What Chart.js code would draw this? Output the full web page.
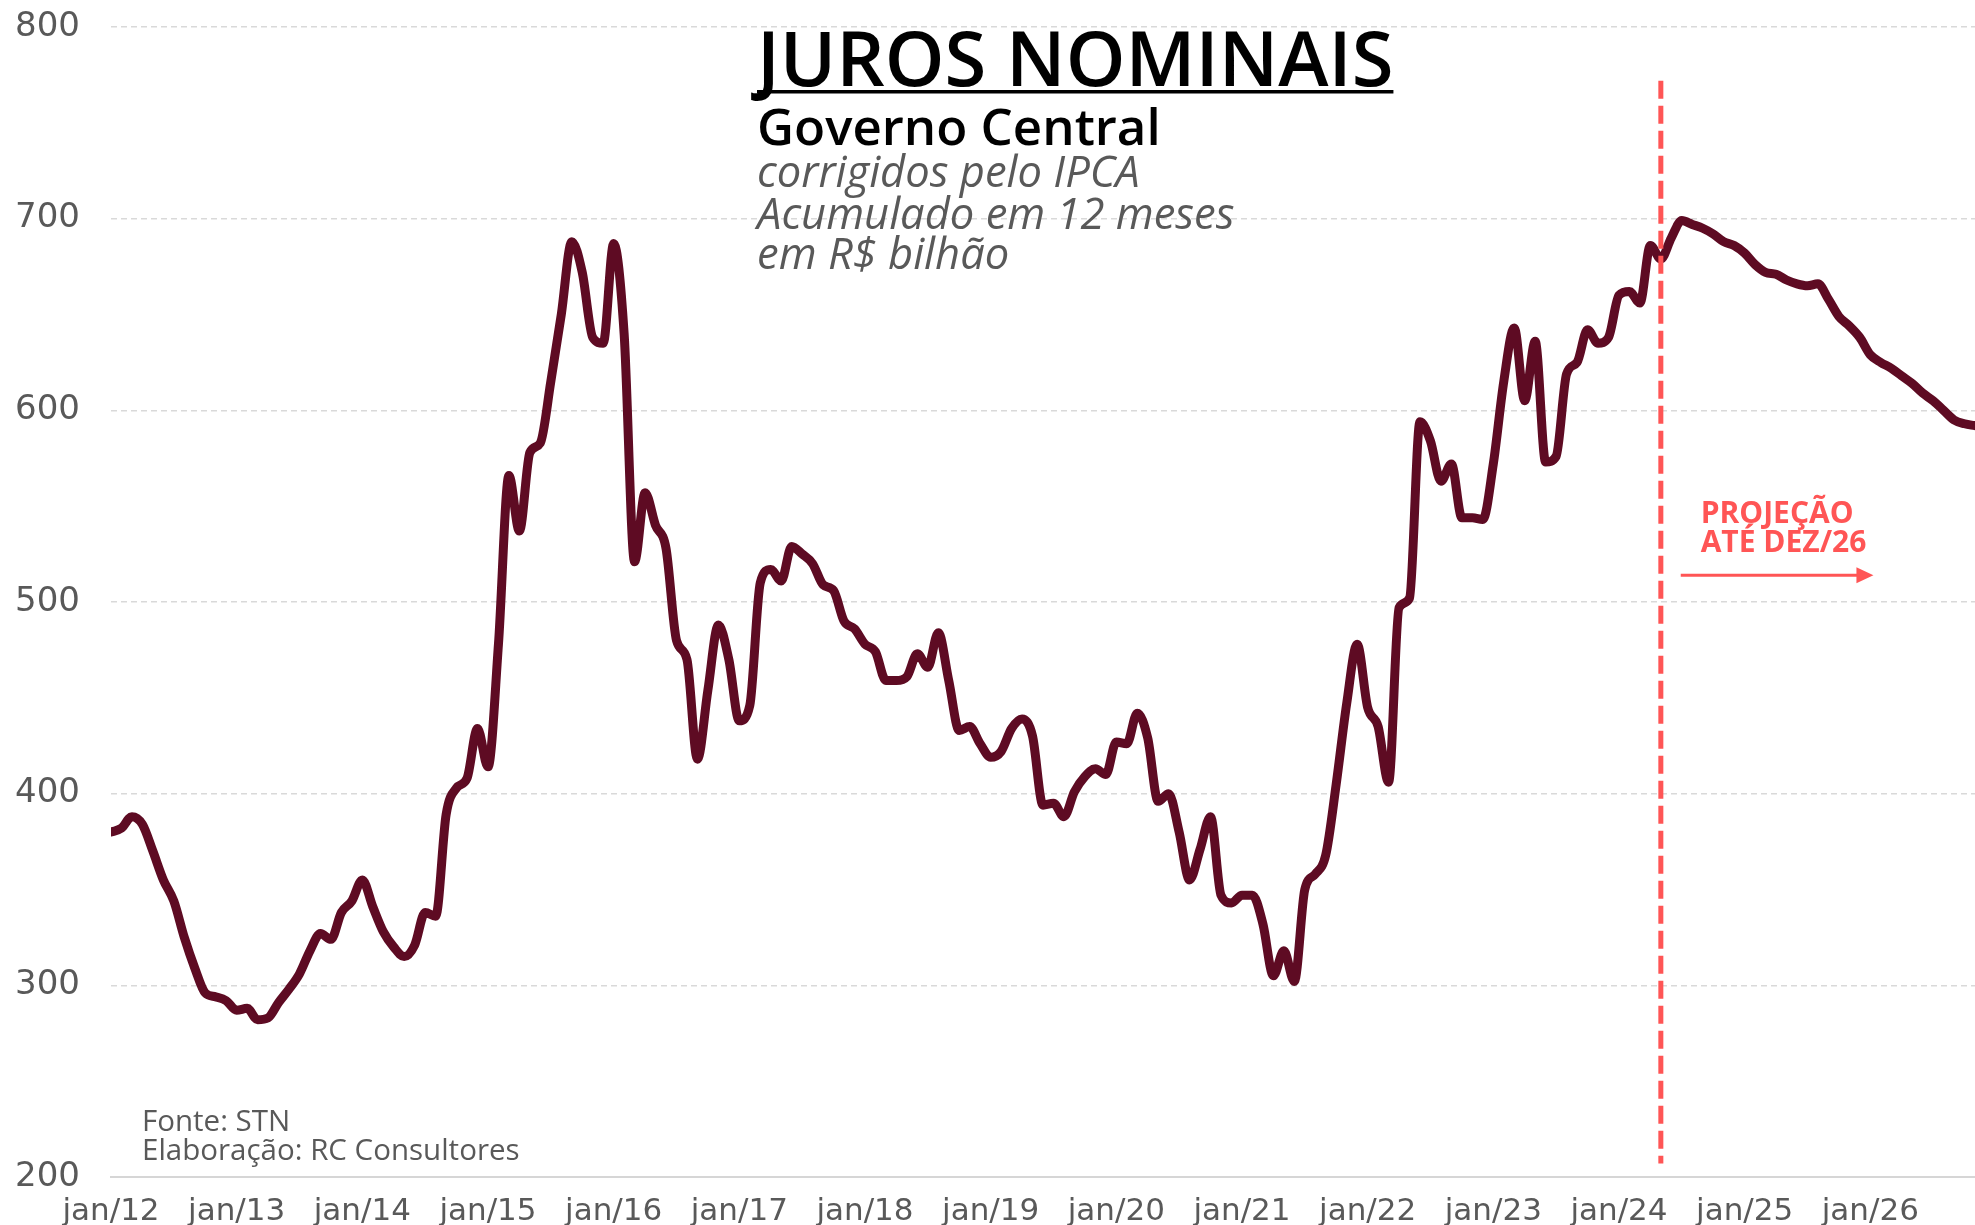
<!DOCTYPE html>
<html>
<head>
<meta charset="utf-8">
<title>Juros nominais - Governo Central</title>
<script src="https://cdn.jsdelivr.net/npm/chart.js@4.4.1/dist/chart.umd.min.js"></script>
<style>
    html, body { margin: 0; padding: 0; background: #fff; overflow: hidden; }
    #wrap { width: 1975px; height: 1225px; }
</style>
</head>
<body>
<div id="wrap"><canvas id="jurosNominais" width="1975" height="1225"></canvas></div>
<script>
"use strict";

// eixo x: um rotulo por janeiro
var tickLabels = ["jan/12", "jan/13", "jan/14", "jan/15", "jan/16", "jan/17", "jan/18", "jan/19", "jan/20", "jan/21", "jan/22", "jan/23", "jan/24", "jan/25", "jan/26"];
var yTicks = [200, 300, 400, 500, 600, 700, 800];

// R$ bilhão, acumulado em 12 meses, jan a dez de cada ano
var juros2012 = [380, 382, 388, 384, 370, 355, 344, 325, 309, 296, 294, 292];
var juros2013 = [287, 288, 282, 283, 291, 298, 306, 318, 327, 324, 338, 344];
var juros2014 = [355, 341, 328, 320, 315, 321, 338, 336, 389, 403, 408, 434];
var juros2015 = [414, 478, 566, 537, 578, 583, 615, 650, 688, 672, 638, 635];
var juros2016 = [687, 640, 521, 557, 540, 528, 480, 470, 418, 454, 488, 470];
var juros2017 = [438, 446, 510, 517, 511, 529, 525, 520, 509, 506, 490, 486];
var juros2018 = [478, 474, 459, 459, 461, 473, 466, 484, 459, 433, 435, 426];
var juros2019 = [419, 422, 434, 439, 430, 394, 395, 388, 401, 409, 413, 410];
var juros2020 = [427, 426, 442, 429, 396, 400, 380, 355, 371, 388, 347, 343];
var juros2021 = [347, 347, 332, 305, 318, 302, 350, 358, 368, 405, 447, 478];
var juros2022 = [445, 435, 406, 497, 502, 594, 584, 563, 572, 544, 544, 543];
var juros2023 = [572, 615, 643, 605, 636, 573, 576, 619, 625, 642, 635, 638];
var juros2024 = [660, 662, 656, 686, 679, 690, 699, 697, 695, 692, 688, 686];
var juros2025 = [682, 676, 672, 671, 668, 666, 665, 666, 658, 649, 644, 638];
var juros2026 = [629, 625, 622, 618, 614, 609, 605, 600, 595, 593, 592, 591];

var serie = [].concat(juros2012, juros2013, juros2014, juros2015, juros2016, juros2017, juros2018,
    juros2019, juros2020, juros2021, juros2022, juros2023, juros2024, juros2025, juros2026);

var projectionStart = 148;   // mai/24, inicio da projecao
var lineColor = "#5e0b23";
var projColor = "#ff5555";
var textGray = "#595959";

var overlay = {
    id: "overlay",
    afterDatasetsDraw: function(chart) {
        var c = chart.ctx, xs = chart.scales.x, ys = chart.scales.y;
        var px = xs.getPixelForValue(projectionStart);
        c.save();

        // linha vertical tracejada da projecao
        c.strokeStyle = projColor;
        c.lineWidth = 5;
        c.setLineDash([18, 7]);
        c.beginPath();
        c.moveTo(px, ys.getPixelForValue(772));
        c.lineTo(px, ys.getPixelForValue(207));
        c.stroke();
        c.setLineDash([]);

        // seta
        var ay = ys.getPixelForValue(514), ax0 = xs.getPixelForValue(149.9), ax1 = xs.getPixelForValue(168.3);
        c.lineWidth = 3;
        c.beginPath();
        c.moveTo(ax0, ay);
        c.lineTo(ax1 - 12, ay);
        c.stroke();
        c.fillStyle = projColor;
        c.beginPath();
        c.moveTo(ax1, ay);
        c.lineTo(ax1 - 17, ay - 8);
        c.lineTo(ax1 - 17, ay + 8);
        c.closePath();
        c.fill();

        c.font = "bold 30px 'Open Sans'";
        c.textBaseline = "alphabetic";
        c.fillText("PROJEÇÃO", xs.getPixelForValue(151.8), ys.getPixelForValue(541));
        c.fillText("ATÉ DEZ/26", xs.getPixelForValue(151.8), ys.getPixelForValue(526));

        // titulo
        c.fillStyle = "#000";
        c.font = "600 76px 'Open Sans'";
        c.fillText("JUROS NOMINAIS", 757, 86);
        var w = c.measureText("JUROS NOMINAIS").width;
        c.fillRect(757, 90, w, 3.5);
        c.font = "600 51px 'Open Sans'";
        c.fillText("Governo Central", 757, 145);

        c.fillStyle = textGray;
        c.font = "italic 43.5px 'Open Sans'";
        c.fillText("corrigidos pelo IPCA", 757, 187);
        c.fillText("Acumulado em 12 meses", 757, 229);
        c.fillText("em R$ bilhão", 757, 269);

        // fonte
        c.font = "29.5px 'Open Sans'";
        c.fillText("Fonte: STN", 142, 1131);
        c.fillText("Elaboração: RC Consultores", 142, 1160);
        c.restore();
    }
};

var ctx = document.getElementById("jurosNominais").getContext("2d");
var chart = new Chart(ctx, {
    type: "line",
    data: {
        datasets: [{
            label: "Juros nominais",
            data: serie.map(function(v, i) { return { x: i, y: v }; }),
            borderColor: lineColor,
            borderWidth: 9,
            borderJoinStyle: "round",
            borderCapStyle: "round",
            pointRadius: 0,
            fill: false,
            tension: 0.4,
            cubicInterpolationMode: "monotone"
        }]
    },
    options: {
        responsive: false,
        animation: false,
        layout: { padding: { left: 15, top: 27, right: 0, bottom: 0 } },
        plugins: {
            legend: { display: false },
            tooltip: { enabled: false }
        },
        scales: {
            x: {
                type: "linear",
                min: 0,
                max: 178,
                grid: { display: false },
                border: { display: true, color: "#d6d6d6", width: 2 },
                afterBuildTicks: function(scale) {
                    scale.ticks = tickLabels.map(function(t, k) { return { value: k * 12 }; });
                },
                afterFit: function(scale) { scale.height = 48; },
                ticks: {
                    autoSkip: false,
                    maxRotation: 0,
                    padding: 8,
                    color: textGray,
                    font: { family: "'DejaVu Sans'", size: 31 },
                    callback: function(v) { return tickLabels[v / 12]; }
                }
            },
            y: {
                min: yTicks[0],
                max: yTicks[yTicks.length - 1],
                afterFit: function(scale) { scale.width = 96; },
                afterBuildTicks: function(scale) {
                    scale.ticks = yTicks.map(function(v) { return { value: v }; });
                },
                border: { display: false, dash: [6, 4] },
                grid: { color: "#d9d9d9", lineWidth: 1.5, drawTicks: false },
                ticks: {
                    crossAlign: "far",
                    padding: 0,
                    color: textGray,
                    font: { family: "'DejaVu Sans'", size: 34 }
                }
            }
        }
    },
    plugins: [overlay]
});
</script>
</body>
</html>
